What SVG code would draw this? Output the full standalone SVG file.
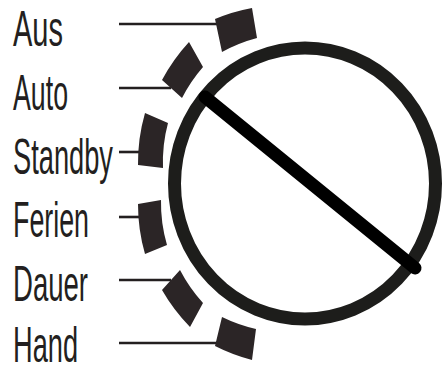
<svg xmlns="http://www.w3.org/2000/svg" width="443" height="367" viewBox="0 0 443 367">
<style>
.lbl{font-family:"Liberation Sans",Arial,sans-serif;font-size:50px;fill:#231f20}
.blk{fill:#2b2526}
.con{stroke:#231f20;stroke-width:2.6;fill:none}
</style>
<rect width="443" height="367" fill="#fff"/>
<g id="connectors">
<line class="con" x1="119" y1="24" x2="217" y2="24"/>
<line class="con" x1="119" y1="88" x2="171" y2="88"/>
<line class="con" x1="119" y1="152" x2="141" y2="152"/>
<line class="con" x1="119" y1="217" x2="141" y2="217"/>
<line class="con" x1="119" y1="280" x2="171" y2="280"/>
<line class="con" x1="119" y1="343" x2="217" y2="343"/>
</g>
<g id="aus"><text class="lbl" x="13" y="46" textLength="50" lengthAdjust="spacingAndGlyphs">Aus</text><path class="blk" d="M215,19 A185,185 0 0 1 252,8 L257,38 A155,155 0 0 0 222,52 Z"/></g>
<g id="auto"><text class="lbl" x="13" y="110" textLength="55" lengthAdjust="spacingAndGlyphs">Auto</text><path class="blk" d="M162,80 A185,185 0 0 1 189,42 L203,67 A155,155 0 0 0 182,98 Z"/></g>
<g id="standby"><text class="lbl" x="13" y="173.5" textLength="100" lengthAdjust="spacingAndGlyphs">Standby</text><path class="blk" d="M138,165 A180,180 0 0 1 145,113 L168,123 A150,150 0 0 0 163,168 Z"/></g>
<g id="ferien"><text class="lbl" x="13" y="237" textLength="76" lengthAdjust="spacingAndGlyphs">Ferien</text><path class="blk" d="M145,254 A180,180 0 0 1 138,204 L161,200 A150,150 0 0 0 167,245 Z"/></g>
<g id="dauer"><text class="lbl" x="13" y="300.5" textLength="75" lengthAdjust="spacingAndGlyphs">Dauer</text><path class="blk" d="M190,327 A185,185 0 0 1 162,290 L180,270 A155,155 0 0 0 203,303 Z"/></g>
<g id="hand"><text class="lbl" x="13" y="362" textLength="65" lengthAdjust="spacingAndGlyphs">Hand</text><path class="blk" d="M252,360 A185,185 0 0 1 215,346 L222,317 A155,155 0 0 0 256,329 Z"/></g>
<g id="dial">
<ellipse cx="305" cy="183.5" rx="130.5" ry="135.5" fill="none" stroke="#1d1d1b" stroke-width="13"/>
<line x1="205" y1="97" x2="415" y2="268" stroke="#000" stroke-width="13" stroke-linecap="round"/>
</g>
</svg>
